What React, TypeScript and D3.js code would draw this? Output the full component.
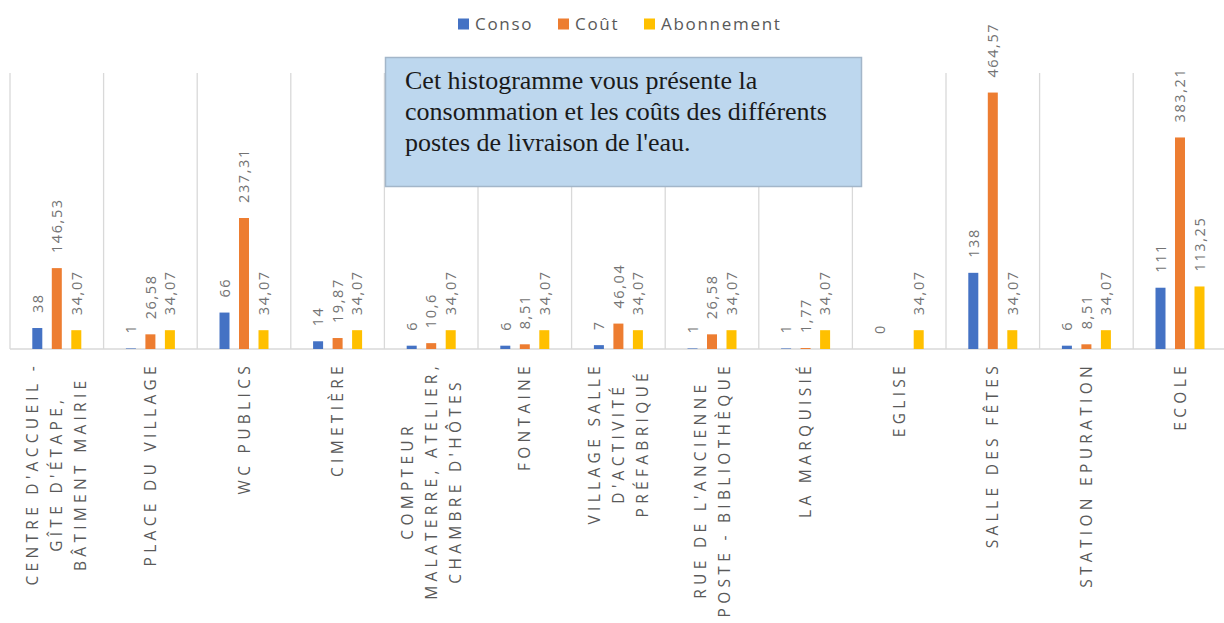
import React, { useEffect, useRef } from "react";
import * as d3 from "d3";

const categories = [
  "Centre d'accueil - gîte d'étape, bâtiment mairie",
  "Place du village",
  "WC publics",
  "Cimetière",
  "Compteur Malaterre, atelier, chambre d'hôtes",
  "Fontaine",
  "Village salle d'activité préfabriqué",
  "Rue de l'ancienne poste - bibliothèque",
  "La Marquisié",
  "Eglise",
  "Salle des fêtes",
  "Station epuration",
  "Ecole",
];

const categoryLines = [
  ["CENTRE D'ACCUEIL -", "GÎTE D'ÉTAPE,", "BÂTIMENT MAIRIE"],
  ["PLACE DU VILLAGE"],
  ["WC PUBLICS"],
  ["CIMETIÈRE"],
  ["COMPTEUR", "MALATERRE, ATELIER,", "CHAMBRE D'HÔTES"],
  ["FONTAINE"],
  ["VILLAGE SALLE", "D'ACTIVITÉ", "PRÉFABRIQUÉ"],
  ["RUE DE L'ANCIENNE", "POSTE - BIBLIOTHÈQUE"],
  ["LA MARQUISIÉ"],
  ["EGLISE"],
  ["SALLE DES FÊTES"],
  ["STATION EPURATION"],
  ["ECOLE"],
];

const series = ["Conso", "Coût", "Abonnement"];
const conso: (number | null)[] = [38, 1, 66, 14, 6, 6, 7, 1, 1, 0, 138, 6, 111];
const cout: (number | null)[] = [146.53, 26.58, 237.31, 19.87, 10.6, 8.51, 46.04, 26.58, 1.77, null, 464.57, 8.51, 383.21];
const abonnement: (number | null)[] = [34.07, 34.07, 34.07, 34.07, 34.07, 34.07, 34.07, 34.07, 34.07, 34.07, 34.07, 34.07, 113.25];
const seriesValues = [conso, cout, abonnement];
const colors = ["#4472C4", "#ED7D31", "#FFC000"];
const yDomain = [0, 500];

const noteLines = [
  "Cet histogramme vous présente la",
  "consommation et les coûts des différents",
  "postes de livraison de l'eau.",
];

const fmt = (v: number) => String(v).replace(".", ",");

export default function App() {
  const ref = useRef<SVGSVGElement>(null);

  useEffect(() => {
    const svg = d3.select(ref.current);
    svg.selectAll("*").remove();

    const plot = { left: 10, right: 1226.8, top: 73, bottom: 349 };
    const x0 = d3.scaleBand<string>().domain(categories).range([plot.left, plot.right]);
    const x1 = d3
      .scaleBand<string>()
      .domain(series)
      .range([-29.25, 29.25])
      .paddingInner(0.487)
      .paddingOuter(0.2435);
    const y = d3.scaleLinear().domain(yDomain).range([plot.bottom, plot.top]);

    // vertical separators
    const seps = categories.map((c) => x0(c) as number);
    svg
      .append("g")
      .selectAll("line")
      .data(seps)
      .join("line")
      .attr("x1", (d) => d)
      .attr("x2", (d) => d)
      .attr("y1", plot.top)
      .attr("y2", plot.bottom)
      .attr("stroke", "#D9D9D9")
      .attr("stroke-width", 1.3);

    // baseline
    svg
      .append("line")
      .attr("x1", plot.left)
      .attr("x2", 1224)
      .attr("y1", y(0))
      .attr("y2", y(0))
      .attr("stroke", "#D9D9D9")
      .attr("stroke-width", 1.5);

    // bars & labels
    const barsG = svg.append("g");
    const labelsG = svg.append("g");
    series.forEach((s, si) => {
      seriesValues[si].forEach((v, ci) => {
        if (v === null) return;
        const cx = (x0(categories[ci]) as number) + x0.bandwidth() / 2 + (x1(s) as number);
        barsG
          .append("rect")
          .attr("x", cx)
          .attr("y", y(v))
          .attr("width", x1.bandwidth())
          .attr("height", y(0) - y(v))
          .attr("fill", colors[si]);
        labelsG
          .append("g")
          .attr("transform", `translate(${cx + x1.bandwidth() / 2},${y(v) - 15}) rotate(-90)`)
          .append("text")
          .attr("text-anchor", "start")
          .attr("dy", "0.36em")
          .attr("font-family", "'Open Sans', sans-serif")
          .attr("font-size", 14.5)
          .attr("letter-spacing", 1.6)
          .attr("fill", "#737373")
          .text(fmt(v));
      });
    });

    // category labels
    const catG = svg.append("g");
    const lineGap = 24;
    categories.forEach((c, ci) => {
      const lines = categoryLines[ci];
      const cx = (x0(c) as number) + x0.bandwidth() / 2;
      const g = catG.append("g").attr("transform", `translate(${cx},362) rotate(-90)`);
      const texts = lines.map((ln, li) =>
        g
          .append("text")
          .attr("font-family", "'Open Sans', sans-serif")
          .attr("font-size", 15.5)
          .attr("letter-spacing", 4.3)
          .attr("fill", "#595959")
          .attr("text-anchor", "middle")
          .attr("y", (li - (lines.length - 1) / 2) * lineGap)
          .attr("dy", "0.36em")
          .text(ln)
      );
      const maxLen = d3.max(texts, (t) => (t.node() as SVGTextElement).getComputedTextLength()) || 0;
      texts.forEach((t) => t.attr("x", -maxLen / 2));
    });

    // note box
    const noteG = svg.append("g");
    noteG
      .append("rect")
      .attr("x", 385.5)
      .attr("y", 57.5)
      .attr("width", 476)
      .attr("height", 129)
      .attr("fill", "#BDD7EE")
      .attr("stroke", "#A3B6C9")
      .attr("stroke-width", 1.5);
    const noteText = noteG
      .append("text")
      .attr("font-family", "'Liberation Serif', 'Times New Roman', serif")
      .attr("font-size", 26)
      .attr("fill", "#1a1a1a");
    noteLines.forEach((ln, i) => {
      noteText
        .append("tspan")
        .attr("x", 405)
        .attr("y", 88.5 + i * 31.3)
        .text(ln);
    });

    // legend
    const legendG = svg.append("g");
    const legendX = [458, 558, 644];
    series.forEach((s, si) => {
      legendG
        .append("rect")
        .attr("x", legendX[si])
        .attr("y", 18.5)
        .attr("width", 11)
        .attr("height", 11)
        .attr("fill", colors[si]);
      legendG
        .append("text")
        .attr("x", legendX[si] + 17)
        .attr("y", 30)
        .attr("font-family", "'Open Sans', sans-serif")
        .attr("font-size", 17)
        .attr("letter-spacing", 1.7)
        .attr("fill", "#595959")
        .text(s);
    });
  }, []);

  return (
    <svg
      ref={ref}
      width={1224}
      height={623}
      style={{ position: "absolute", left: 0, top: 0, background: "#fff", display: "block" }}
    />
  );
}
